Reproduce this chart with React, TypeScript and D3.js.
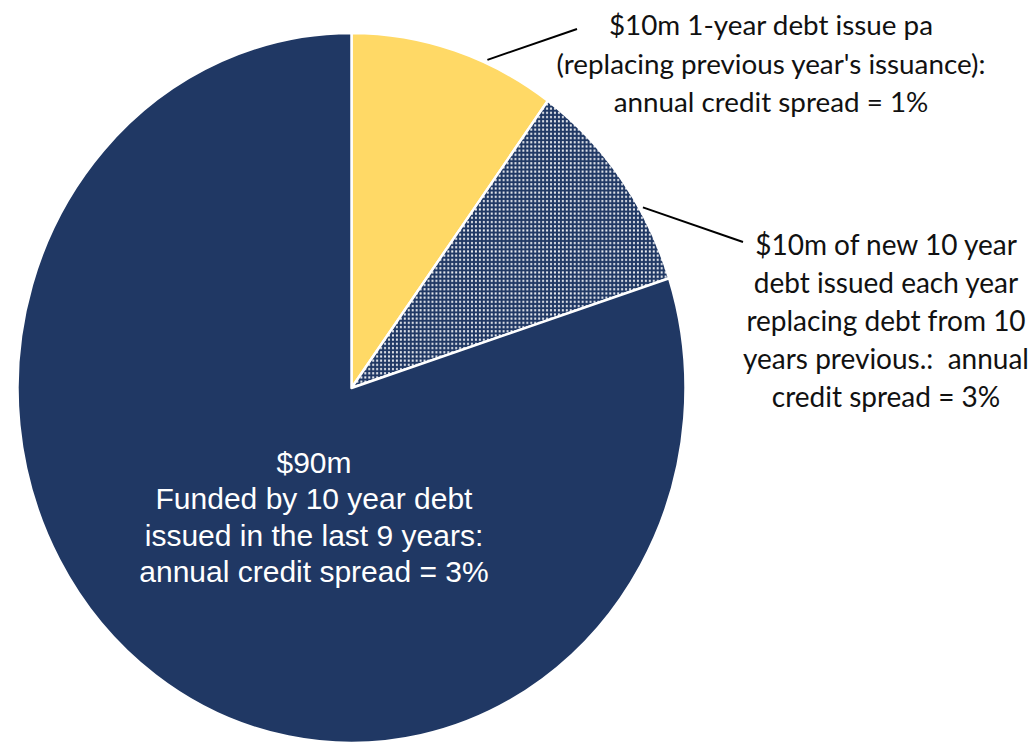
import React from "react";
import * as d3 from "d3";

// Funding mix, in $m
const segments = ["1-year debt", "New 10-year debt", "Older 10-year debt"];
const values = [10, 10, 80];
const fills = ["#FFD966", "url(#dots)", "#203864"];

const oneYearLabel = [
  "$10m 1-year debt issue pa",
  "(replacing previous year's issuance):",
  "annual credit spread = 1%",
];
const newTenYearLabel = [
  "$10m of new 10 year",
  "debt issued each year",
  "replacing debt from 10",
  "years previous.:  annual",
  "credit spread = 3%",
];
// total 10-year debt = older issues plus this year's new issue
const tenYearTotal = values[1] + values[2];
const tenYearLabel = [
  `$${tenYearTotal}m`,
  "Funded by 10 year debt",
  "issued in the last 9 years:",
  "annual credit spread = 3%",
];

const W = 1036;
const H = 745;
const cx = 351.5;
const cy = 388;
const R = 355;
const sx = 334 / 355; // horizontal squash of the pie

export default function App() {
  const pie = d3
    .pie<number>()
    .sort(null)
    .value((d) => d);
  const arcs = pie(values);
  const arc = d3.arc<d3.PieArcDatum<number>>().innerRadius(0).outerRadius(R);

  const edgePoint = (a: d3.PieArcDatum<number>, frac: number, rf: number) => {
    const ang = a.startAngle + frac * (a.endAngle - a.startAngle);
    return [cx + Math.sin(ang) * R * rf * sx, cy - Math.cos(ang) * R * rf];
  };

  const leaders = [
    { a: arcs[0], to: [577, 29] },
    { a: arcs[1], to: [743, 242] },
  ];

  const calloutFont = "Lato, 'Open Sans', sans-serif";

  return (
    <svg
      width={W}
      height={H}
      viewBox={`0 0 ${W} ${H}`}
      style={{ position: "absolute", left: 0, top: 0, background: "#fff" }}
    >
      <defs>
        <pattern id="dots" patternUnits="userSpaceOnUse" width={4.2} height={4.2}>
          <rect width={4.2} height={4.2} fill="#203864" />
          <rect x={1} y={1} width={2.1} height={2.1} fill="#ffffff" fillOpacity={0.9} />
        </pattern>
      </defs>
      <g transform={`translate(${cx},${cy}) scale(${sx},1)`}>
        {arcs.map((a, i) => (
          <path
            key={segments[i]}
            d={arc(a) || ""}
            fill={fills[i]}
            stroke="#ffffff"
            strokeWidth={2.5}
            strokeLinejoin="round"
            vectorEffect="non-scaling-stroke"
          />
        ))}
      </g>
      {leaders.map((l, i) => {
        const [x1, y1] = edgePoint(l.a, 0.66, 1.01);
        return (
          <line
            key={i}
            x1={x1}
            y1={y1}
            x2={l.to[0]}
            y2={l.to[1]}
            stroke="#000"
            strokeWidth={2}
          />
        );
      })}
      <text
        fontFamily={calloutFont}
        fontSize={27.8}
        fill="#111"
        textAnchor="middle"
        style={{ whiteSpace: "pre" }}
      >
        {oneYearLabel.map((t, i) => (
          <tspan key={i} x={771} y={35 + i * 38.5}>
            {t}
          </tspan>
        ))}
      </text>
      <text
        fontFamily={calloutFont}
        fontSize={28}
        fill="#111"
        textAnchor="middle"
        style={{ whiteSpace: "pre" }}
      >
        {newTenYearLabel.map((t, i) => (
          <tspan key={i} x={886} y={255 + i * 38}>
            {t}
          </tspan>
        ))}
      </text>
      <text
        fontFamily="'Liberation Sans', Arial, sans-serif"
        fontSize={30}
        fill="#ffffff"
        textAnchor="middle"
      >
        {tenYearLabel.map((t, i) => (
          <tspan key={i} x={314} y={473 + i * 36.3}>
            {t}
          </tspan>
        ))}
      </text>
    </svg>
  );
}
